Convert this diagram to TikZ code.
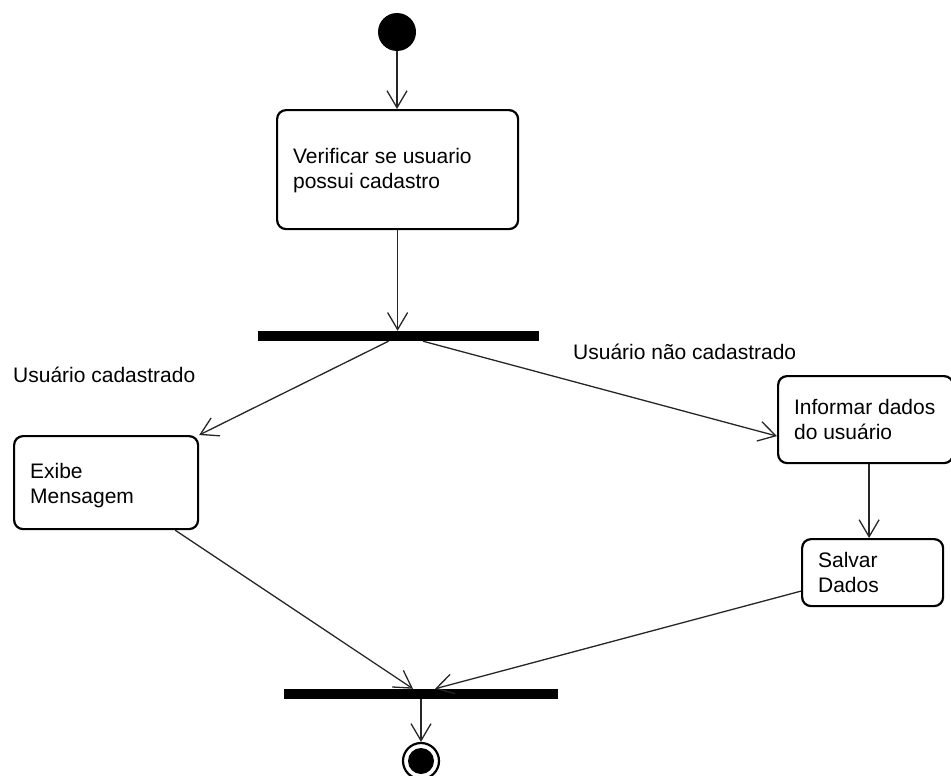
\documentclass[tikz,border=0pt]{standalone}
\usepackage{fontspec}
\setmainfont{Liberation Sans}
\usetikzlibrary{arrows.meta}
% invisible strut that lowers a centred text block a little
\newcommand{\lowerby}[1]{\rule{0pt}{#1}}
\begin{document}
\begin{tikzpicture}[x=1pt,y=-1pt,
  every node/.style={font=\fontsize{21}{25}\selectfont},
  activity/.style={draw, line width=2.2pt, rounded corners=9pt, align=flush left,
    inner xsep=16pt, inner ysep=0pt, anchor=north west},
  bar/.style={fill=black, inner sep=0pt, minimum height=10pt},
  lbl/.style={inner sep=0pt, anchor=base west},
  flow/.style={draw=black!85, line width=1.3pt,
    -{Straight Barb[length=17pt,width=20pt,line width=1.3pt]}}
]
\useasboundingbox (0,0) rectangle (951,776);

% initial and final states
\node[circle, fill=black, inner sep=0pt, minimum size=38pt] (start) at (397,32) {};
\node[circle, draw, line width=2.2pt, inner sep=0pt, minimum size=36pt] (final) at (421,761) {};
\node[circle, fill=black, inner sep=0pt, minimum size=26pt] (finalin) at (final.center) {};

% actions
\node[activity, text width=209pt, minimum height=119pt] (verif) at (276,109)
  {\lowerby{18pt}Verificar se usuario\\possui cadastro};
\node[activity, text width=152pt, minimum height=93pt] (exibe) at (13,435)
  {\lowerby{22pt}Exibe\\Mensagem};
\node[activity, text width=143pt, minimum height=87pt] (inform) at (777,375)
  {Informar dados\\do usuário};
\node[activity, text width=109pt, minimum height=67pt] (salvar) at (801,538)
  {Salvar\\Dados};

% fork and join bars
\node[bar, minimum width=281pt] (fork) at (398.5,336) {};
\node[bar, minimum width=274pt] (join) at (421,694) {};

% guard labels
\node[lbl] (lcad) at (13,382) {Usuário cadastrado};
\node[lbl] (lnao) at (573,359) {Usuário não cadastrado};

% transitions
\draw[flow] (start) -- (start |- verif.north);
\draw[flow] (verif.south) -- (verif.south |- fork.north);
\draw[flow] ([xshift=-10pt]fork.south) -- (exibe.north east);
\draw[flow] ([xshift=24.5pt]fork.south) -- ([yshift=-16.5pt]inform.west);
\draw[flow] ([xshift=3.5pt]inform.south) -- ([xshift=-3.5pt]salvar.north);
\draw[flow] ([xshift=-24pt]exibe.south east) -- ([xshift=-8pt]join.north);
\draw[flow] ([yshift=-18.5pt]salvar.west) -- ([xshift=14pt]join.north);
\draw[flow] (join.south) -- (final.north);
\end{tikzpicture}
\end{document}
